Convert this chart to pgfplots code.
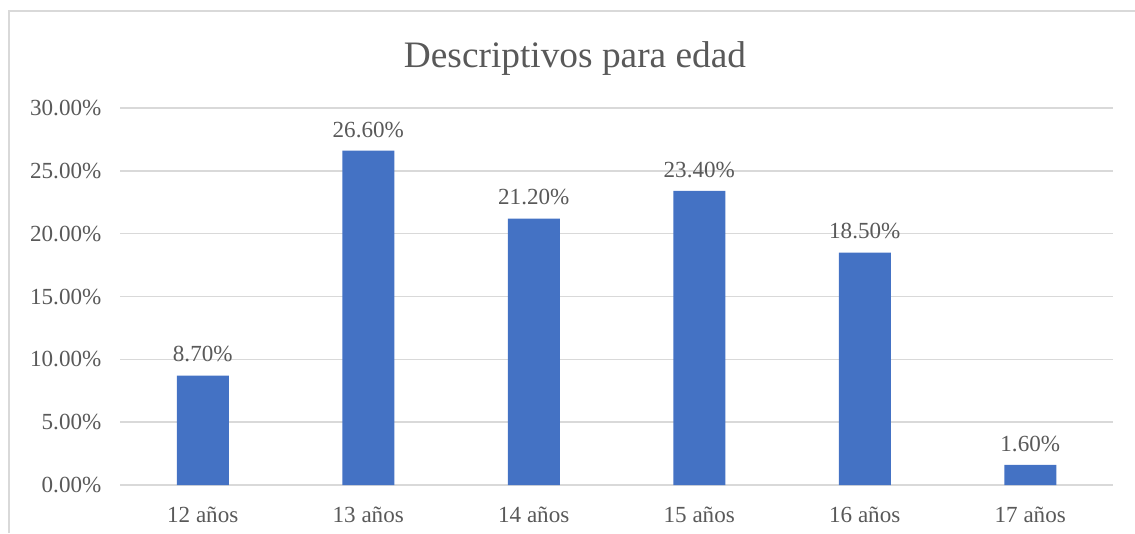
\documentclass[border=0pt]{standalone}
\usepackage{pgfplots}
\pgfplotsset{compat=1.18}
\usepackage{fontspec}
\setmainfont{Liberation Serif}
\definecolor{barblue}{HTML}{4472C4}
\definecolor{gridgray}{HTML}{D9D9D9}
\definecolor{txtgray}{HTML}{595959}
\begin{document}
\begin{tikzpicture}
\useasboundingbox (0pt,0pt) rectangle (851.25pt,399.75pt);
\draw[gridgray, line width=1.1pt] (6.75pt,0pt) -- (6.75pt,391.5pt) -- (851.25pt,391.5pt);
\node[txtgray, font=\fontsize{28}{33}\selectfont] at (431.25pt,356pt) {Descriptivos para edad};
\begin{axis}[
  at={(90pt,36pt)}, anchor=south west,
  scale only axis, width=744.75pt, height=282.75pt,
  xmin=-0.5, xmax=5.5, ymin=0, ymax=30,
  axis line style={draw=none},
  axis x line*=bottom,
  ytick={0,5,10,15,20,25,30},
  yticklabels={0.00\%,5.00\%,10.00\%,15.00\%,20.00\%,25.00\%,30.00\%},
  xtick={0,1,2,3,4,5},
  xticklabels={12 años,13 años,14 años,15 años,16 años,17 años},
  major tick length=0pt,
  ymajorgrids, grid style={gridgray, line width=1.1pt},
  ticklabel style={txtgray, font=\fontsize{17.3}{20}\selectfont},
  y tick label style={xshift=-10.5pt},
  x tick label style={yshift=-13pt},
  ybar, bar width=39pt,
  point meta=explicit symbolic,
  nodes near coords,
  nodes near coords style={txtgray, font=\fontsize{17.3}{20}\selectfont, yshift=6.5pt},
  clip=false,
]
\addplot[fill=barblue, draw=none] coordinates {
  (0,8.7) [8.70\%]
  (1,26.6) [26.60\%]
  (2,21.2) [21.20\%]
  (3,23.4) [23.40\%]
  (4,18.5) [18.50\%]
  (5,1.6) [1.60\%]
};
\end{axis}
\end{tikzpicture}
\end{document}
